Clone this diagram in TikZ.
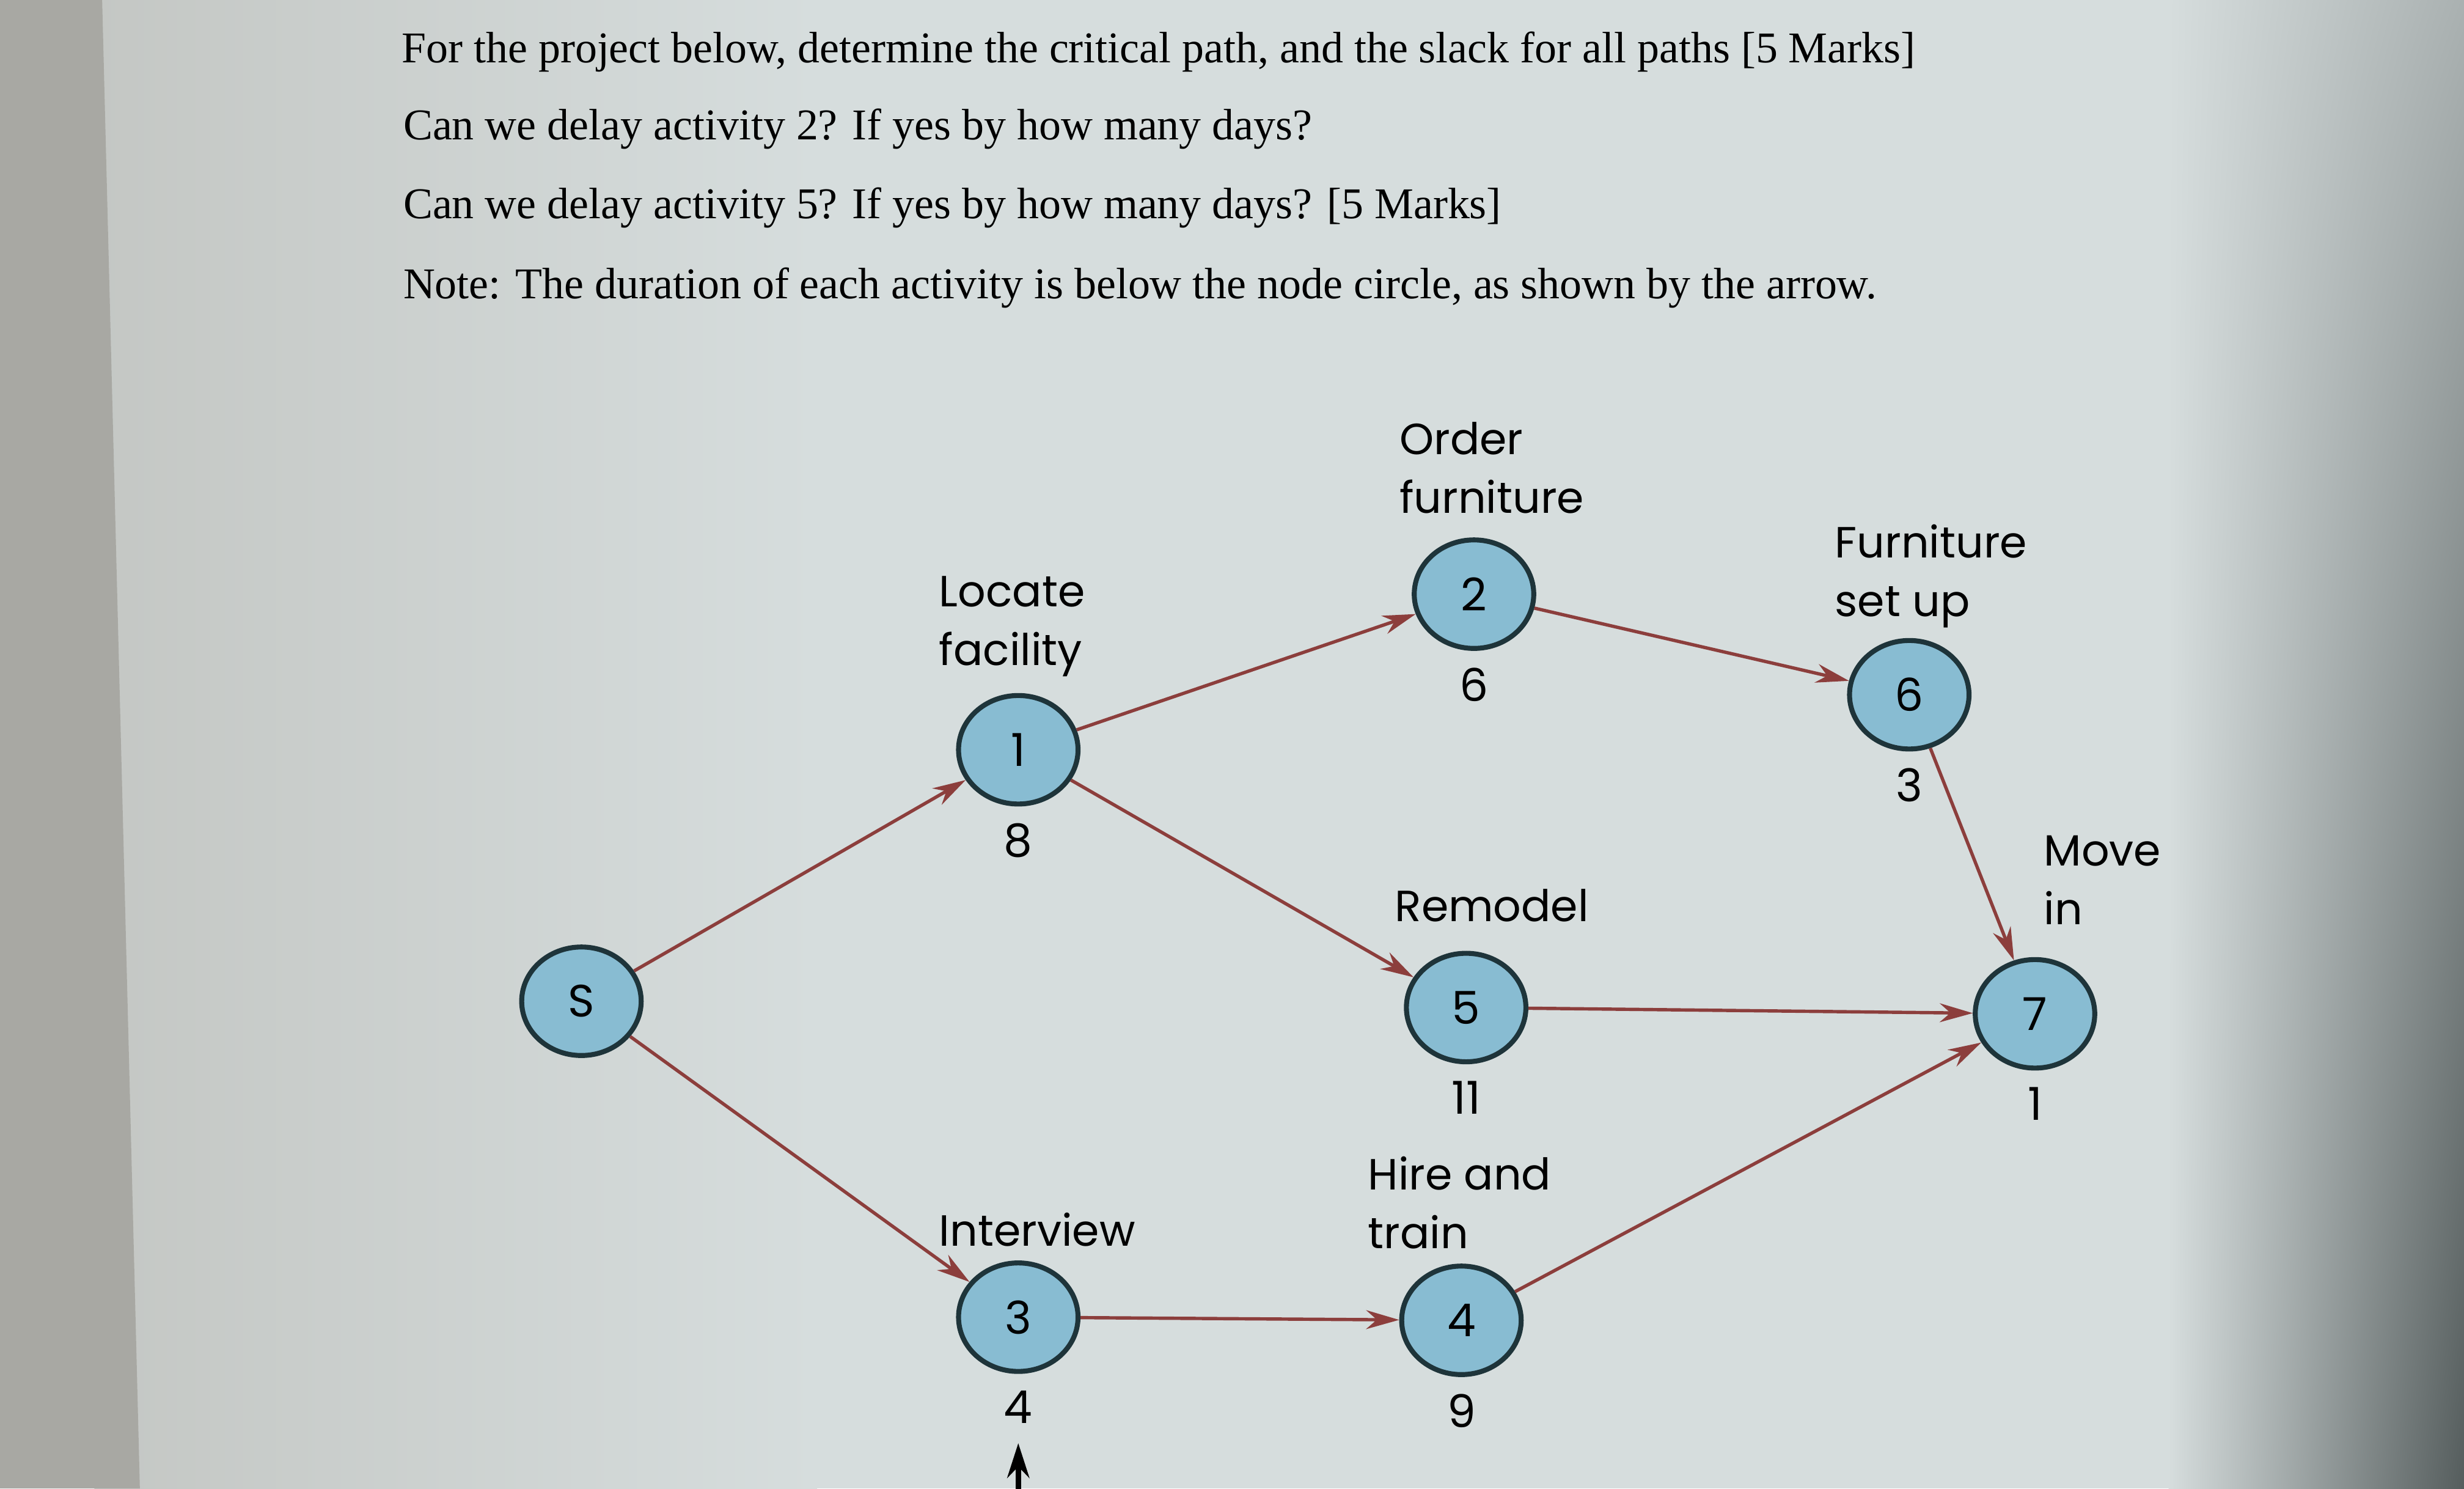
\documentclass[tikz,border=0pt]{standalone}
\usepackage{fontspec}
\setmainfont{Liberation Serif}
\newfontfamily\netfont{Poppins}
\usepackage{tikz}
\usetikzlibrary{arrows.meta,positioning,shapes.geometric,shadings}
\definecolor{screen}{RGB}{214,221,221}
\definecolor{screenleft}{RGB}{196,199,196}
\definecolor{bezel}{RGB}{168,168,163}
\definecolor{screenright}{RGB}{170,177,177}
\definecolor{screencorner}{RGB}{85,93,93}
\definecolor{evfill}{RGB}{136,188,210}
\definecolor{evrim}{RGB}{30,52,58}
\definecolor{linkred}{RGB}{140,62,60}

\begin{document}
\begin{tikzpicture}[x=0.01cm,y=-0.01cm,>={Stealth[length=2.1mm,width=1.2mm]},
  ev/.style={ellipse,draw=evrim,line width=0.9pt,fill=evfill,minimum width=7.6mm,minimum height=6.9mm,inner sep=0pt,font=\netfont\fontsize{8.2}{10}\selectfont},
  dur/.style={below=1mm of #1,inner sep=0pt,font=\netfont\fontsize{8.2}{10}\selectfont},
  act/.style={anchor=north west,align=left,inner sep=0pt,font=\netfont\fontsize{7.9}{10.6}\selectfont},
  ask/.style={anchor=base west,inner sep=0pt,font=\fontsize{7.95}{9}\selectfont},
  link/.style={->,draw=linkred,line width=0.6pt}]
\useasboundingbox (0,0) rectangle (1568,947);
\clip (0,0) rectangle (1568,947);
\fill[screen] (0,0) rectangle (1568,947);
\shade[left color=screenleft,right color=screen] (60,0) rectangle (520,947);
\fill[bezel] (0,0) -- (65,0) -- (89,947) -- (0,947) -- cycle;
\shade[upper left=screen,lower left=screen,upper right=screenright,lower right=screencorner] (1380,0) rectangle (1568,947);

\node[ask] (Q1) at (255,40) {For the project below, determine the critical path, and the slack for all paths [5 Marks]};
\node[ask] (Q2) at (256,89) {Can we delay activity 2? If yes by how many days?};
\node[ask] (Q3) at (256,139) {Can we delay activity 5? If yes by how many days? [5 Marks]};
\node[ask] (Q4) at (256,190) {Note: The duration of each activity is below the node circle, as shown by the arrow.};

\node[ev] (S) at (370,637) {S};
\node[ev] (N1) at (648,477) {1};
\node[ev] (N2) at (938,378) {2};
\node[ev] (N3) at (648,838) {3};
\node[ev] (N4) at (930,840) {4};
\node[ev] (N5) at (933,641) {5};
\node[ev] (N6) at (1215,442) {6};
\node[ev] (N7) at (1295,645) {7};

\node[dur=N1] (D1) {8};
\node[dur=N2] (D2) {6};
\node[dur=N3] (D3) {4};
\node[dur=N4] (D4) {9};
\node[dur=N5] (D5) {11};
\node[dur=N6] (D6) {3};
\node[dur=N7] (D7) {1};

\node[act] (L1) at (597,366) {Locate\\facility};
\node[act] (L2) at (890,268) {Order\\furniture};
\node[act] (L3) at (597,771) {Interview};
\node[act] (L4) at (870,735) {Hire and\\train};
\node[act] (L5) at (887,565) {Remodel};
\node[act] (L6) at (1167,333) {Furniture\\set up};
\node[act] (L7) at (1300,531) {Move\\in};

\draw[link] (S) -- (N1);
\draw[link] (S) -- (N3);
\draw[link] (N1) -- (N2);
\draw[link] (N1) -- (N5);
\draw[link] (N2) -- (N6);
\draw[link] (N6) -- (N7);
\draw[link] (N5) -- (N7);
\draw[link] (N3) -- (N4);
\draw[link] (N4) -- (N7);

\coordinate (P) at (648,960);
\draw[->,>={Stealth[length=2.2mm,width=1.4mm]},line width=1pt,shorten >=1.2mm] (P) -- (D3);
\end{tikzpicture}
\end{document}
